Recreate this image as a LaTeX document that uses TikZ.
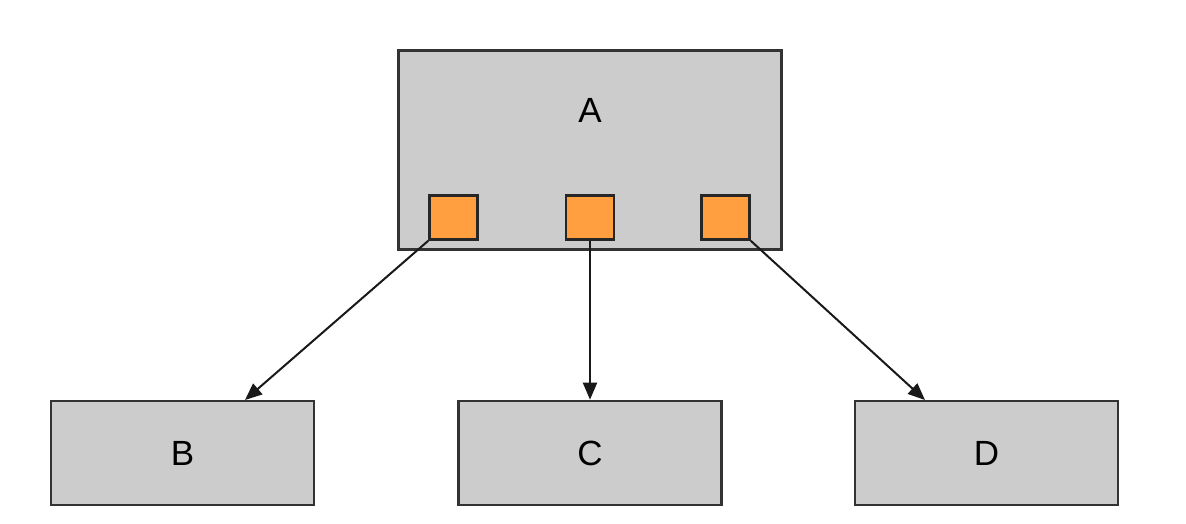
\documentclass[tikz,border=0pt]{standalone}
\usepackage{fontspec}
\setmainfont{Liberation Sans}
\usetikzlibrary{arrows.meta}
\begin{document}
\begin{tikzpicture}[x=1pt,y=-1pt,
  box/.style={draw=black!80,fill=black!20,line width=2.6pt,inner sep=0pt,font=\fontsize{35}{40}\selectfont},
  port/.style={draw=black!85,fill=orange!75!white,line width=2.6pt,inner sep=0pt,minimum width=48pt,minimum height=44pt},
  conn/.style={line width=2pt,draw=black!90,-{Triangle[length=17pt,width=14pt]}}]
\useasboundingbox (0,0) rectangle (1186,523);
\fill[white] (0,0) rectangle (1186,523);
\node[box,minimum width=383pt,minimum height=199pt] (A) at (590,150) {};
\node[font=\fontsize{35}{40}\selectfont] (Al) at (590,110) {A};
\node[port] (p1) at (453.5,217.5) {};
\node[port] (p2) at (590,217.5) {};
\node[port] (p3) at (725.5,217.5) {};
\node[box,minimum width=263pt,minimum height=104pt] (B) at (182.5,453) {B};
\node[box,minimum width=263pt,minimum height=104pt] (C) at (590,453) {C};
\node[box,minimum width=263pt,minimum height=104pt] (D) at (986.5,453) {D};
\coordinate (bt) at (245,400);
\coordinate (dt) at (925,400);
\draw[conn] (p1.south west) -- (bt);
\draw[conn] (p2.south) -- (C.north);
\draw[conn] (p3.south east) -- (dt);
\end{tikzpicture}
\end{document}
